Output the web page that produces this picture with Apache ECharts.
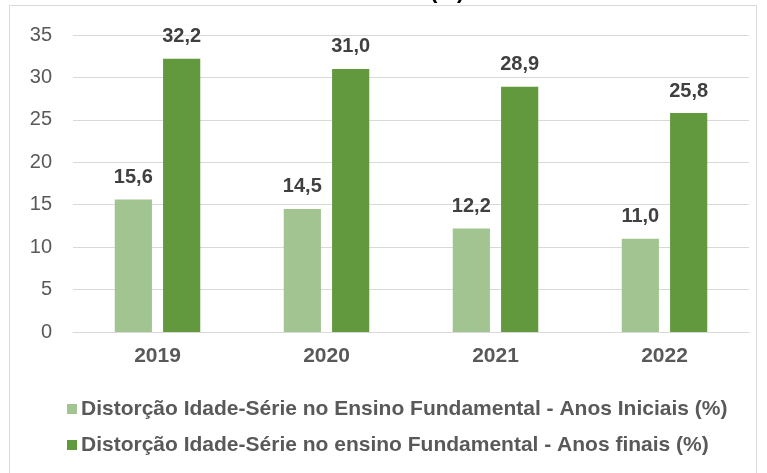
<!DOCTYPE html>
<html>
<head>
    <meta charset="utf-8" />
    <title>Distorção Idade-Série</title>
    <script src="https://cdn.jsdelivr.net/npm/echarts@6/dist/echarts.min.js"></script>
</head>
<body style="margin:0;background:#fff;">
    <div id="main" style="width: 767px;height:473px;"></div>
    <script type="text/javascript">
        // dados
        var anos = ['2019', '2020', '2021', '2022'];
        var nomeIniciais = 'Distorção Idade-Série no Ensino Fundamental - Anos Iniciais (%)';
        var nomeFinais = 'Distorção Idade-Série no ensino Fundamental - Anos finais (%)';
        var anosIniciais = [15.6, 14.5, 12.2, 11.0];
        var anosFinais = [32.2, 31.0, 28.9, 25.8];

        var fonte = 'Arial, "Liberation Sans", sans-serif';
        var myChart = echarts.init(document.getElementById("main"));

        // rótulo com vírgula decimal
        var rotulo = {
            show: true,
            position: 'top',
            distance: 12,
            fontFamily: fonte,
            fontSize: 20,
            fontWeight: 'bold',
            color: '#404040',
            formatter: function(p) {
                return p.value.toFixed(1).replace('.', ',');
            }
        };

        var option = {
            animation: false,
            backgroundColor: '#fff',
            // título cortado no topo da imagem
            title: {
                text: '(%)',
                left: 425,
                top: -24,
                textStyle: { fontFamily: fonte, fontSize: 22, fontWeight: 'bold', color: '#000' }
            },
            graphic: [{
                type: 'rect',
                shape: { x: 9.5, y: 5.5, width: 747, height: 480 },
                style: { fill: 'none', stroke: '#d9d9d9', lineWidth: 1 },
                z: -1
            }],
            grid: { left: 73, right: 18, top: 35, bottom: 141 },
            legend: {
                orient: 'vertical',
                left: 62,
                top: 393,
                itemWidth: 10,
                itemHeight: 10,
                itemGap: 14,
                icon: 'rect',
                textStyle: { fontFamily: fonte, fontSize: 21, fontWeight: 'bold', color: '#595959', lineHeight: 22, padding: [0, 0, 0, -1] },
                data: [nomeIniciais, nomeFinais]
            },
            xAxis: {
                type: 'category',
                data: anos,
                axisLine: { lineStyle: { color: '#d9d9d9' } },
                axisTick: { show: false },
                axisLabel: { fontFamily: fonte, fontSize: 21, fontWeight: 'bold', color: '#595959', margin: 14 }
            },
            yAxis: {
                type: 'value',
                min: 0,
                max: 35,
                interval: 5,
                axisLine: { show: false },
                axisTick: { show: false },
                splitLine: { lineStyle: { color: '#d9d9d9' } },
                axisLabel: { fontFamily: fonte, fontSize: 20, color: '#595959', margin: 21 }
            },
            series: [{
                name: nomeIniciais,
                type: 'bar',
                data: anosIniciais,
                barWidth: '22%',
                barGap: '30%',
                itemStyle: { color: '#a1c490' },
                label: rotulo
            }, {
                name: nomeFinais,
                type: 'bar',
                data: anosFinais,
                barWidth: '22%',
                itemStyle: { color: '#62993e' },
                label: rotulo
            }]
        };
        myChart.setOption(option);
    </script>
</body>
</html>
